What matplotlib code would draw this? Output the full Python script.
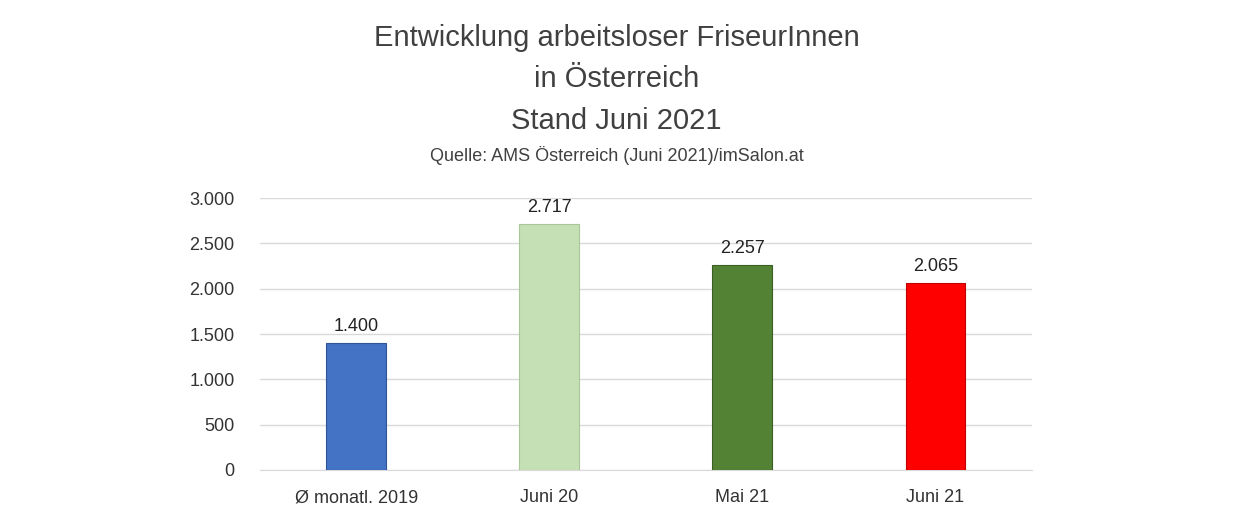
import matplotlib
matplotlib.use("Agg")
import matplotlib.pyplot as plt
from matplotlib.ticker import FuncFormatter

categories = ["Ø monatl. 2019", "Juni 20", "Mai 21", "Juni 21"]
values = [1400, 2717, 2257, 2065]
colors = ["#4472C4", "#C5E0B4", "#548235", "#FF0000"]
yticks = [0, 500, 1000, 1500, 2000, 2500, 3000]

def fmt(v):
    return f"{int(v):,}".replace(",", ".")

plt.rcParams["font.family"] = "Liberation Sans"
fig = plt.figure(figsize=(12.48, 5.25), dpi=100)
ax = fig.add_axes([0.208, 0.1048, 0.619, 0.518])
x = range(len(categories))
ax.bar(x, values, width=0.31, color=colors, edgecolor=["#2F5597", "#A9C79A", "#3B5E25", "#C00000"], linewidth=0.8, zorder=3)
for i, v in zip(x, values):
    ax.text(i, v + 90, fmt(v), ha="center", va="bottom", fontsize=13, color="#222222")
ax.set_xlim(-0.5, 3.5)
ax.set_ylim(0, 3000)
ax.set_yticks(yticks)
ax.yaxis.set_major_formatter(FuncFormatter(lambda v, p: fmt(v)))
ax.set_xticks(list(x))
ax.set_xticklabels(categories)
ax.tick_params(axis="both", length=0, labelsize=13, colors="#333333")
ax.tick_params(axis="y", pad=18)
ax.tick_params(axis="x", pad=14)
ax.grid(axis="y", color="#D9D9D9", linewidth=1, zorder=0)
for s in ["top", "right", "left"]:
    ax.spines[s].set_visible(False)
ax.spines["bottom"].set_color("#D9D9D9")

fig.text(0.494, 0.927, "Entwicklung arbeitsloser FriseurInnen", ha="center", va="center", fontsize=21, color="#404040")
fig.text(0.494, 0.850, "in Österreich", ha="center", va="center", fontsize=21, color="#404040")
fig.text(0.494, 0.770, "Stand Juni 2021", ha="center", va="center", fontsize=21, color="#404040")
fig.text(0.494, 0.703, "Quelle: AMS Österreich (Juni 2021)/imSalon.at", ha="center", va="center", fontsize=13, color="#404040")

fig.savefig("out.png", dpi=100)
